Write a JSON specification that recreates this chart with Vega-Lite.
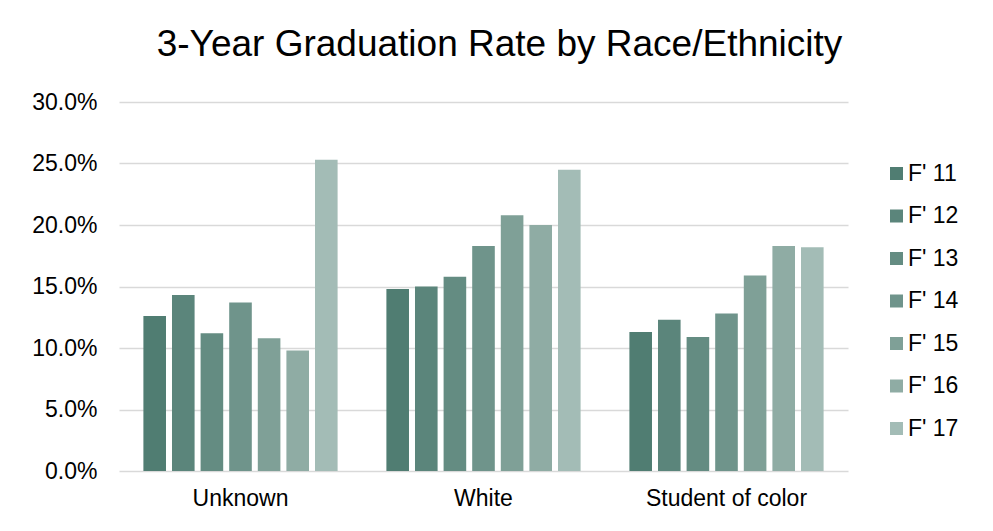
{
  "$schema": "https://vega.github.io/schema/vega-lite/v6.json",
  "autosize": {"type": "none"},
  "width": 729,
  "height": 369,
  "padding": {"left": 119, "top": 102, "right": 145, "bottom": 60},
  "background": "#ffffff",
  "title": {
    "text": "3-Year Graduation Rate by Race/Ethnicity",
    "font": "Liberation Sans",
    "fontSize": 37,
    "fontWeight": "normal",
    "color": "#000000",
    "anchor": "middle",
    "frame": "group",
    "baseline": "alphabetic",
    "offset": -2,
    "dx": 16
  },
  "data": {
    "values": [
      {"group": "Unknown", "year": "F' 11", "rate": 0.126},
      {"group": "Unknown", "year": "F' 12", "rate": 0.143},
      {"group": "Unknown", "year": "F' 13", "rate": 0.112},
      {"group": "Unknown", "year": "F' 14", "rate": 0.137},
      {"group": "Unknown", "year": "F' 15", "rate": 0.108},
      {"group": "Unknown", "year": "F' 16", "rate": 0.098},
      {"group": "Unknown", "year": "F' 17", "rate": 0.253},
      {"group": "White", "year": "F' 11", "rate": 0.148},
      {"group": "White", "year": "F' 12", "rate": 0.150},
      {"group": "White", "year": "F' 13", "rate": 0.158},
      {"group": "White", "year": "F' 14", "rate": 0.183},
      {"group": "White", "year": "F' 15", "rate": 0.208},
      {"group": "White", "year": "F' 16", "rate": 0.200},
      {"group": "White", "year": "F' 17", "rate": 0.245},
      {"group": "Student of color", "year": "F' 11", "rate": 0.113},
      {"group": "Student of color", "year": "F' 12", "rate": 0.123},
      {"group": "Student of color", "year": "F' 13", "rate": 0.109},
      {"group": "Student of color", "year": "F' 14", "rate": 0.128},
      {"group": "Student of color", "year": "F' 15", "rate": 0.159},
      {"group": "Student of color", "year": "F' 16", "rate": 0.183},
      {"group": "Student of color", "year": "F' 17", "rate": 0.182}
    ]
  },
  "mark": {"type": "bar"},
  "encoding": {
    "x": {
      "field": "group",
      "type": "nominal",
      "sort": ["Unknown", "White", "Student of color"],
      "scale": {"paddingInner": 0, "paddingOuter": 0},
      "axis": {
        "title": null,
        "labelAngle": 0,
        "domain": false,
        "ticks": false,
        "labelPadding": 16,
        "labelFont": "Liberation Sans",
        "labelFontSize": 23,
        "labelColor": "#000000"
      }
    },
    "xOffset": {
      "field": "year",
      "type": "nominal",
      "scale": {"paddingInner": 0.21, "paddingOuter": 0.853}
    },
    "y": {
      "field": "rate",
      "type": "quantitative",
      "scale": {"domain": [0, 0.3], "nice": false},
      "axis": {
        "title": null,
        "format": ".1%",
        "values": [0, 0.05, 0.1, 0.15, 0.2, 0.25, 0.3],
        "domain": false,
        "ticks": false,
        "labelPadding": 22,
        "labelFont": "Liberation Sans",
        "labelFontSize": 23,
        "labelColor": "#000000",
        "gridColor": "#D9D9D9",
        "gridWidth": 1.5
      }
    },
    "color": {
      "field": "year",
      "type": "nominal",
      "scale": {
        "domain": ["F' 11", "F' 12", "F' 13", "F' 14", "F' 15", "F' 16", "F' 17"],
        "range": ["#507D72", "#5B857B", "#648C82", "#6F948B", "#7FA097", "#8FACA4", "#A3BCB6"]
      },
      "legend": {
        "title": null,
        "orient": "none",
        "legendX": 766,
        "legendY": 60,
        "symbolType": "square",
        "symbolSize": 169,
        "symbolStrokeWidth": 0,
        "labelFont": "Liberation Sans",
        "labelFontSize": 23,
        "labelColor": "#000000",
        "labelOffset": 0,
        "rowPadding": 18.5
      }
    }
  },
  "config": {
    "view": {"stroke": null}
  }
}
